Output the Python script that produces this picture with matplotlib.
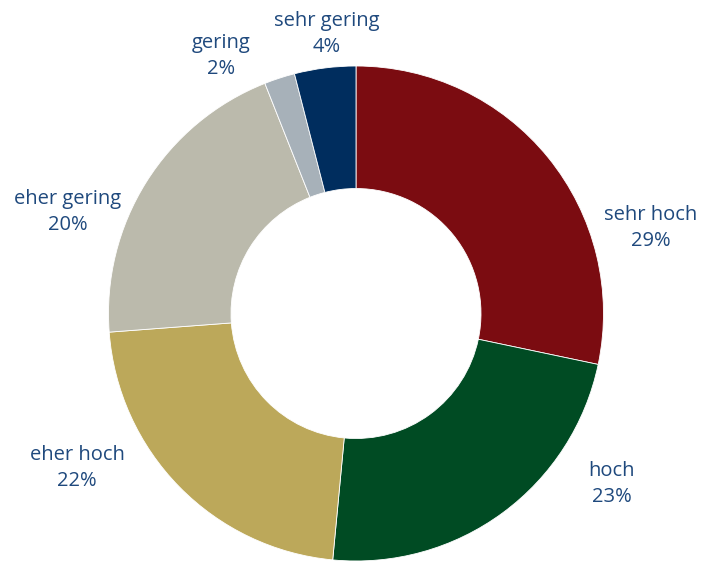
import matplotlib.pyplot as plt

categories = ["sehr hoch", "hoch", "eher hoch", "eher gering", "gering", "sehr gering"]
shares = [28.3, 23.2, 22.3, 20.2, 2.0, 4.0]      # wedge sizes as measured
pct_labels = [29, 23, 22, 20, 2, 4]               # percentages printed on the chart

colors = ["#7B0C11", "#004B23", "#BCA85A", "#BBBAAC", "#A7B1B9", "#002D5E"]
# label centres in pixels of the 703x562 image (layout only)
label_px = [(651, 228), (612, 484), (77, 468), (68, 212), (221, 56), (327, 34)]

W, H = 703, 562
cx, cy, R = 356, 313.5, 247.5

fig = plt.figure(figsize=(W / 100, H / 100), dpi=100)
ax = fig.add_axes([0, 0, 1, 1])
ax.pie(shares, colors=colors, startangle=90, counterclock=False, radius=1,
       wedgeprops=dict(width=0.495, edgecolor="white", linewidth=0.6))
ax.set_xlim(-cx / R, (W - cx) / R)
ax.set_ylim(-(H - cy) / R, cy / R)
ax.set_aspect("equal")
ax.axis("off")

for name, val, (px, py) in zip(categories, pct_labels, label_px):
    ax.text((px - cx) / R, (cy - py) / R, f"{name}\n{val}%", ha="center", va="center",
            fontsize=14.5, color="#1F497D", family=["Open Sans", "DejaVu Sans"],
            linespacing=1.45)

fig.savefig("out.png", dpi=100)
